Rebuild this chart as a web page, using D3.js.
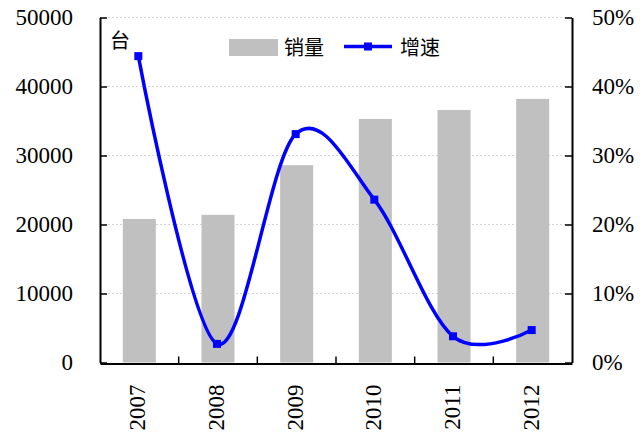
<!DOCTYPE html>
<html>
<head>
<meta charset="utf-8">
<script src="https://cdn.jsdelivr.net/npm/d3@7"></script>
<style>
  html, body { margin: 0; padding: 0; background: #fff; }
  svg { display: block; }
</style>
</head>
<body>
<svg id="chart" width="644" height="432"></svg>
<script>
// Annual sales (units) and year-on-year growth
const years = ["2007", "2008", "2009", "2010", "2011", "2012"];
const sales = [20800, 21400, 28600, 35300, 36600, 38200];
const growth = [0.444, 0.027, 0.331, 0.236, 0.038, 0.047];
const leftTicks = [0, 10000, 20000, 30000, 40000, 50000];
const rightTicks = [0, 0.1, 0.2, 0.3, 0.4, 0.5];
const seriesNames = ["销量", "增速"];
const unitLabel = "台";

const NUM_FONT = "Liberation Serif";
const CJK_FONT = "Noto Sans CJK SC";

const svg = d3.select("#chart");
const plotL = 100, plotR = 572, plotT = 17.5, plotB = 362.5;

const x = d3.scaleBand().domain(years).range([plotL, plotR])
  .paddingInner(0.58).paddingOuter(0.29);
const xCat = d3.scaleBand().domain(years).range([plotL, plotR]).padding(0);
const yL = d3.scaleLinear().domain([0, 50000]).range([plotB, plotT]);
const yR = d3.scaleLinear().domain([0, 0.5]).range([plotB, plotT]);

// dotted horizontal gridlines
svg.append("g").selectAll("line").data(leftTicks.slice(1)).join("line")
  .attr("x1", plotL).attr("x2", plotR)
  .attr("y1", d => yL(d)).attr("y2", d => yL(d))
  .attr("stroke", "#d4d4d4").attr("stroke-width", 1)
  .attr("stroke-dasharray", "2,2");

// bars
svg.append("g").selectAll("rect").data(years).join("rect")
  .attr("x", d => x(d)).attr("width", x.bandwidth())
  .attr("y", (d, i) => yL(sales[i]))
  .attr("height", (d, i) => plotB - yL(sales[i]))
  .attr("fill", "#c0c0c0");

// axes
const axL = svg.append("g").attr("transform", `translate(${plotL},0)`)
  .call(d3.axisLeft(yL).tickValues(leftTicks).tickSizeInner(-7).tickSizeOuter(0)
    .tickPadding(27).tickFormat(d3.format("d")));
const axR = svg.append("g").attr("transform", `translate(${plotR},0)`)
  .call(d3.axisRight(yR).tickValues(rightTicks).tickSizeInner(-7).tickSizeOuter(0)
    .tickPadding(20).tickFormat(d3.format(".0%")));
const axB = svg.append("g").attr("transform", `translate(0,${plotB + 1})`)
  .call(d3.axisBottom(xCat).tickValues([]).tickSizeOuter(0));
// category boundary ticks on the bottom axis
const bounds = d3.range(1, years.length).map(i => plotL + i * xCat.step());
axB.selectAll(".bnd").data(bounds).join("line").attr("class", "bnd")
  .attr("x1", d => d).attr("x2", d => d).attr("y1", 0).attr("y2", -7)
  .attr("stroke", "#000").attr("stroke-width", 1.5);

[axL, axR, axB].forEach(g => {
  g.attr("font-family", NUM_FONT).attr("font-size", 23);
  g.selectAll(".domain").attr("stroke", "#000").attr("stroke-width", 2);
  g.selectAll(".tick line").attr("stroke", "#000").attr("stroke-width", 1.5);
  g.selectAll(".tick text").attr("fill", "#000").attr("font-family", NUM_FONT);
});

// rotated year labels
svg.append("g").selectAll("text").data(years).join("text")
  .attr("font-family", NUM_FONT).attr("font-size", 23)
  .attr("transform", d => `translate(${xCat(d) + xCat.bandwidth() / 2 + 6},${plotB + 22}) rotate(-90)`)
  .attr("text-anchor", "end")
  .text(d => d);

// smoothed growth line
const pts = years.map((d, i) => [xCat(d) + xCat.bandwidth() / 2 - 1, yR(growth[i])]);
svg.append("path")
  .attr("d", d3.line().curve(d3.curveCatmullRom.alpha(0))(pts))
  .attr("fill", "none").attr("stroke", "#0000ff").attr("stroke-width", 3.5)
  .attr("stroke-linejoin", "round");
svg.append("g").selectAll("rect").data(pts).join("rect")
  .attr("x", d => d[0] - 4).attr("y", d => d[1] - 4)
  .attr("width", 8).attr("height", 8).attr("fill", "#0000ff");

// unit label and legend
const txt = svg.append("g").attr("font-family", CJK_FONT).attr("font-size", 20);
txt.append("text").attr("x", 110).attr("y", 48).text(unitLabel);
svg.append("rect").attr("x", 229).attr("y", 39).attr("width", 49).attr("height", 17).attr("fill", "#c0c0c0");
txt.append("text").attr("x", 284).attr("y", 55).text(seriesNames[0]);
svg.append("line").attr("x1", 344).attr("x2", 392).attr("y1", 46.5).attr("y2", 46.5)
  .attr("stroke", "#0000ff").attr("stroke-width", 3.5);
svg.append("rect").attr("x", 364).attr("y", 42.5).attr("width", 8).attr("height", 8).attr("fill", "#0000ff");
txt.append("text").attr("x", 400).attr("y", 55).text(seriesNames[1]);
</script>
</body>
</html>
